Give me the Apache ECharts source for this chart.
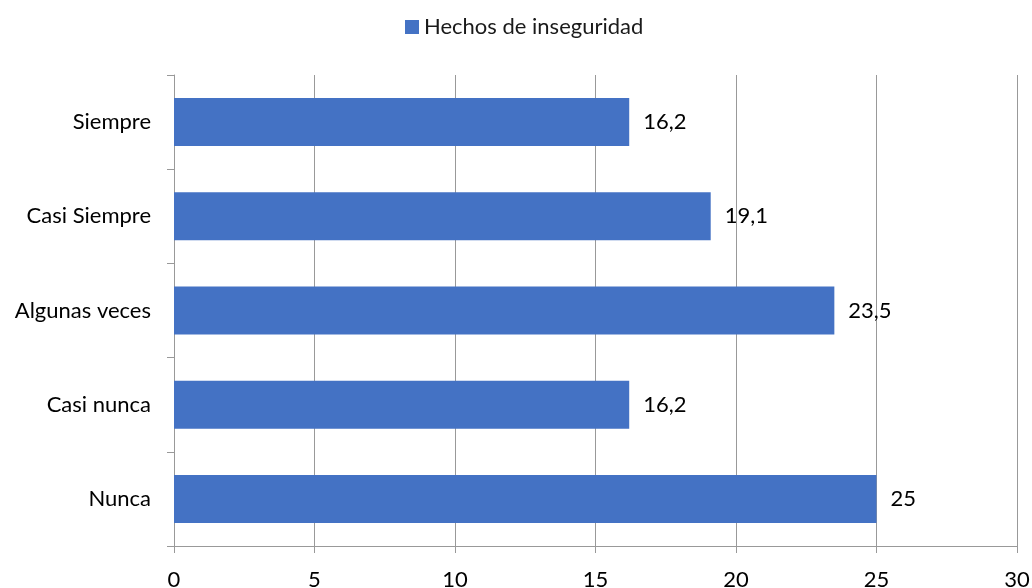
<!DOCTYPE html>
<html><head><meta charset="utf-8">
<script src="https://cdn.jsdelivr.net/npm/echarts@6/dist/echarts.min.js"></script>
<style>html,body{margin:0;padding:0;background:#fff}#c{width:1032px;height:588px}</style>
</head><body><div id="c"></div>
<script>
const categories = ["Nunca", "Casi nunca", "Algunas veces", "Casi Siempre", "Siempre"];
const values = [25, 16.2, 23.5, 19.1, 16.2];
const seriesName = "Hechos de inseguridad";
const xTicks = [0, 5, 10, 15, 20, 25, 30];

const FONT = "Lato";
const chart = echarts.init(document.getElementById('c'), null, {renderer: 'canvas'});
chart.setOption({
  animation: false,
  textStyle: {fontFamily: FONT},
  legend: {
    data: [seriesName], top: 11, left: 400,
    itemWidth: 14, itemHeight: 14, itemGap: 7, icon: 'rect',
    textStyle: {fontSize: 22, color: '#1a1a1a', fontFamily: FONT}
  },
  grid: {left: 174, right: 15, top: 75, bottom: 42, containLabel: false, outerBoundsMode: 'none'},
  xAxis: {
    type: 'value', min: xTicks[0], max: xTicks[xTicks.length - 1], interval: 5,
    axisLine: {show: true, lineStyle: {color: '#999', width: 1}},
    axisTick: {show: true, length: 7, lineStyle: {color: '#999'}},
    splitLine: {show: true, lineStyle: {color: '#999', width: 1}},
    axisLabel: {fontSize: 22, color: '#000', margin: 23, fontFamily: FONT}
  },
  yAxis: {
    type: 'category', data: categories,
    axisLine: {show: true, lineStyle: {color: '#999', width: 1}},
    axisTick: {show: true, length: 7, lineStyle: {color: '#999'}},
    axisLabel: {fontSize: 22, color: '#000', margin: 23, fontFamily: FONT}
  },
  series: [{
    name: seriesName, type: 'bar', data: values, barWidth: '51%',
    itemStyle: {color: '#4472C4'},
    label: {
      show: true, position: 'right', distance: 14, fontSize: 22, color: '#000', fontFamily: FONT,
      formatter: p => String(p.value).replace('.', ',')
    }
  }]
});
</script></body></html>
